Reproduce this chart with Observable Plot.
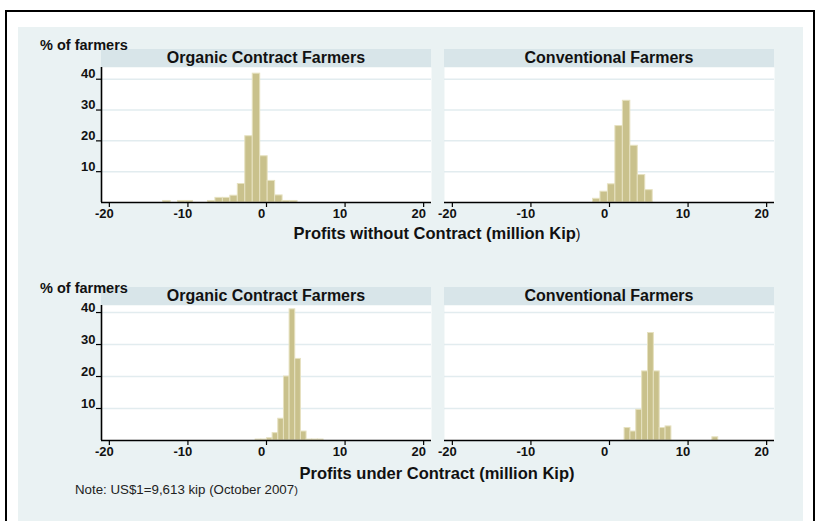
<!DOCTYPE html>
<html><head><meta charset="utf-8">
<script src="https://cdn.jsdelivr.net/npm/d3@7"></script>
<script src="https://cdn.jsdelivr.net/npm/@observablehq/plot@0.6"></script>
<style>
body{margin:0;background:#fff;font-family:"Liberation Sans",Arial,sans-serif;}
#root{position:relative;width:821px;height:521px;overflow:hidden;background:#fff;}
.abs{position:absolute;}
#frame{left:5px;top:10px;width:810px;height:530px;border:2px solid #000;box-sizing:border-box;}
#bg{left:18px;top:27px;width:785px;height:520px;background:#eaf2f3;}
.strip{position:absolute;background:#d8e5e9;font-weight:bold;font-size:16px;color:#111;text-align:center;line-height:18px;height:18px;}
.ylab{position:absolute;font-weight:bold;font-size:14.5px;color:#111;white-space:nowrap;transform:translateY(-50%);}
.xtitle{position:absolute;font-weight:bold;font-size:16.5px;color:#111;white-space:nowrap;transform:translate(-50%,-50%);}
.note{position:absolute;font-size:13.3px;color:#222;white-space:nowrap;transform:translateY(-50%);}
.panel{position:absolute;}
</style></head><body><div id="root">
<div id="frame" class="abs"></div>
<div id="bg" class="abs"></div>
</div>
<script>
// ---------- data ----------
const panelTitles = ["Organic Contract Farmers", "Conventional Farmers"];
const rowTitles = ["Profits without Contract (million Kip", "Profits under Contract (million Kip"];
const yAxisTitle = "% of farmers";
const noteText = "Note: US$1=9,613 kip (October 2007";
const xTicks = [-20, -10, 0, 10, 20];
const yTicks = [10, 20, 30, 40];

// histogram bins: first bin start, bin width, % of farmers per bin
const orgWithoutStart = -13.15, orgWithoutWidth = 0.95;
const orgWithout = [0.5, 0, 0.5, 0.5, 0, 0, 0.5, 1.5, 1.5, 2.2, 6, 21.5, 41.8, 15, 7, 2.3, 0.5, 0.5];
const convWithoutStart = -2.1, convWithoutWidth = 0.95;
const convWithout = [1.2, 3.5, 5.9, 24.8, 33, 18.4, 8.9, 4];
const orgUnderStart = -1.38, orgUnderWidth = 0.72;
const orgUnder = [0.3, 0.3, 0.7, 2.3, 6.8, 20, 41, 25.5, 2.8, 0.3, 0.3, 0.3];
const convUnderStart = 1.92, convUnderWidth = 0.745;
const convUnder = [3.9, 2.8, 9.6, 21.6, 33.6, 21.6, 3.9, 4.4, 0, 0, 0, 0, 0, 0, 0, 1];

// ---------- layout ----------
const root = document.getElementById("root");
const FONT = "Liberation Sans, Arial, sans-serif";
const xDomain = [-21, 21];
const plotW = 330;
const cols = [{left: 101, showY: true}, {left: 444, showY: false}];
const rows = [
  {top: 67, h: 135, ymax: 43.8, ytitle: 45, strip: 49, xtitle: 233},
  {top: 305, h: 135, ymax: 42.2, ytitle: 288, strip: 287, xtitle: 473}
];
const panels = [
  [ {start: orgWithoutStart, width: orgWithoutWidth, data: orgWithout},
    {start: convWithoutStart, width: convWithoutWidth, data: convWithout} ],
  [ {start: orgUnderStart, width: orgUnderWidth, data: orgUnder},
    {start: convUnderStart, width: convUnderWidth, data: convUnder} ]
];

function makePanel(p, row, col) {
  const bins = p.data.map((v, i) => ({x1: p.start + i * p.width, x2: p.start + (i + 1) * p.width, pct: v}))
    .filter(d => d.pct > 0);
  const mL = col.showY ? 45 : 10, mR = 3, mB = 40;
  const marks = [
    Plot.frame({fill: "white", stroke: null}),
    Plot.gridY(yTicks, {stroke: "#e2ecef", strokeOpacity: 1, strokeWidth: 1.5}),
    Plot.rectY(bins, {x1: "x1", x2: "x2", y: "pct", fill: "#c9c18c", stroke: "#e6e1c0", strokeWidth: 1}),
    Plot.ruleY([0], {stroke: "#000", strokeWidth: 1.6}),
    Plot.axisX(xTicks, {tickSize: 5, tickFormat: () => "", label: null, stroke: "#000", strokeWidth: 1.2}),
    Plot.text(xTicks, {x: d => d, text: d => String(d), frameAnchor: "bottom", dy: 15, dx: -5,
      fontWeight: "bold", fontSize: 13, fill: "#111", fontFamily: FONT})
  ];
  if (col.showY) {
    marks.push(
      Plot.ruleX([xDomain[0]], {stroke: "#000", strokeWidth: 1.6}),
      Plot.axisY(yTicks, {tickSize: 5, tickFormat: () => "", label: null, stroke: "#000", strokeWidth: 1.2}),
      Plot.text(yTicks, {y: d => d, text: d => String(d), frameAnchor: "left", dx: -6, dy: -5, textAnchor: "end",
        fontWeight: "bold", fontSize: 13, fill: "#111", fontFamily: FONT})
    );
  }
  const svg = Plot.plot({
    width: mL + plotW + mR,
    height: row.h + mB,
    marginLeft: mL, marginRight: mR, marginTop: 0, marginBottom: mB,
    x: {domain: xDomain, axis: null},
    y: {domain: [0, row.ymax], axis: null},
    style: {background: "transparent", overflow: "visible", fontFamily: FONT},
    marks
  });
  svg.classList.add("panel");
  svg.style.left = (col.left - mL) + "px";
  svg.style.top = row.top + "px";
  svg.style.position = "absolute";
  root.appendChild(svg);
}

rows.forEach((row, r) => {
  cols.forEach((col, c) => {
    makePanel(panels[r][c], row, col);
    const s = document.createElement("div");
    s.className = "strip";
    s.style.left = col.left + "px";
    s.style.width = plotW + "px";
    s.style.top = row.strip + "px";
    s.textContent = panelTitles[c];
    root.appendChild(s);
  });
  const yl = document.createElement("div");
  yl.className = "ylab";
  yl.style.left = "40px";
  yl.style.top = row.ytitle + "px";
  yl.textContent = yAxisTitle;
  root.appendChild(yl);
  const xt = document.createElement("div");
  xt.className = "xtitle";
  xt.style.left = "437px";
  xt.style.top = row.xtitle + "px";
  xt.innerHTML = rowTitles[r] + (r === 0 ? '<span style="font-weight:normal;font-size:14px">)</span>' : ')');
  root.appendChild(xt);
});

const note = document.createElement("div");
note.className = "note";
note.style.left = "75px";
note.style.top = "489px";
note.innerHTML = noteText + '<span style="font-size:11px">)</span>';
root.appendChild(note);
</script>
</body></html>
